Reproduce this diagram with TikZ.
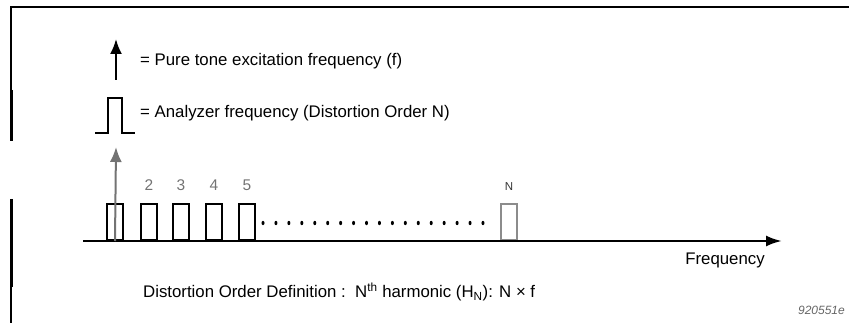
\documentclass[tikz,border=0pt]{standalone}
\usepackage{fontspec}
\setmainfont{Liberation Sans}
\usetikzlibrary{positioning, arrows.meta}

\begin{document}
\begin{tikzpicture}[
                x=1pt, y=-1pt,
                pulse/.style={rectangle, draw=black, line width=2.2pt, minimum width=16pt,
                              minimum height=36pt, inner sep=0pt, anchor=south},
                harmonic/.style={font=\fontsize{15.5}{15}\selectfont, text=black!55, inner sep=0pt},
                caption/.style={font=\fontsize{16.8}{18}\selectfont, inner sep=0pt, anchor=base west},
                frame/.style={line width=1.5pt},
                axis/.style={line width=2.5pt, -{Latex[length=16pt, width=11pt]}},
                tone/.style={line width=2pt, -{Latex[length=15pt, width=12pt]}}
            ]
                \useasboundingbox (0,0) rectangle (849,323);

                % frame
                \draw[frame] (849,7) -- (11,7) -- (11,141);
                \draw[line width=3pt] (11,90) -- (11,141);
                \draw[frame] (11,199) -- (11,323);
                \draw[line width=3pt] (11,199) -- (11,287);

                % legend
                \coordinate (legtail) at (116,80);
                \coordinate (leghead) at (116,39);
                \draw[tone] (legtail) -- (leghead);
                \node[caption] (tonetext) at (140,66) {= Pure tone excitation frequency (f)};
                \draw[line width=2.2pt] (95,133) -| (108,98) -| (122,133) -- (135,133);
                \node[caption] (analyzertext) at (140,118) {= Analyzer frequency (Distortion Order N)};

                % spectrum
                \foreach \n/\x in {1/107, 2/141, 3/173, 4/206, 5/239}
                    \node[pulse] (p\n) at (\x+8,241) {};
                \node[pulse, draw=black!45] (pN) at (509,241) {};
                \foreach \k in {2,...,5}
                    \node[harmonic, above=12pt of p\k] {\k};
                \node[harmonic, font=\fontsize{11.5}{11}\selectfont, text=black!80, above=12pt of pN] (nlabel) {N};
                \foreach \i in {0,...,17}
                    \fill (263+\i*12.94,223) ellipse (1.5 and 2.2);

                \coordinate (origin) at (83,241);
                \coordinate (axisend) at (782,241);
                \draw[axis] (origin) -- (axisend);
                \coordinate (tonetop) at (116,147);
                \draw[tone, black!55] (p1.south) -- (tonetop);

                \node[caption, anchor=base] (freq) at (725,265) {Frequency};
                \node[caption] (definition) at (143,298)
                    {Distortion Order Definition :\ \ N\textsuperscript{th} harmonic (H\textsubscript{N}): N × f};
                \node[font=\fontsize{12}{12}\selectfont\itshape, text=black!60, inner sep=0pt,
                      anchor=base east] (figno) at (845,314) {920551e};
            \end{tikzpicture}
\end{document}
